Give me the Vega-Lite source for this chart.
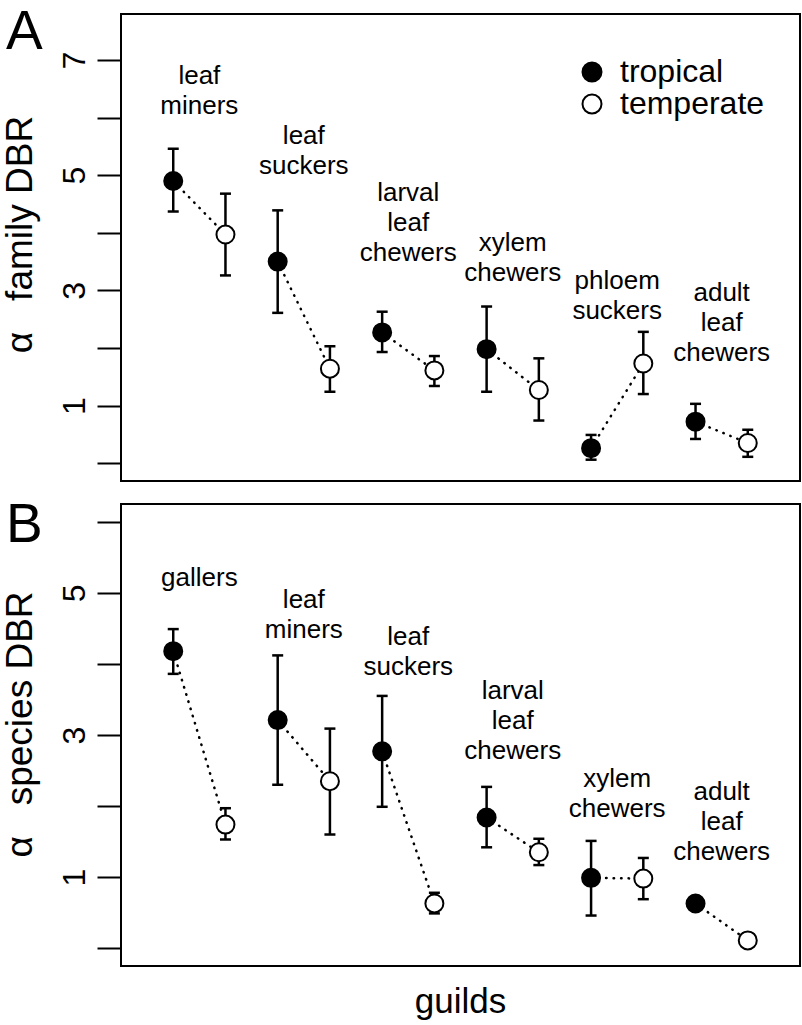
{
  "$schema": "https://vega.github.io/schema/vega-lite/v6.json",
  "padding": {"left": 0, "top": 4, "right": 0, "bottom": 0},
  "bounds": "flush",
  "spacing": 23,
  "config": {
    "font": "Liberation Sans",
    "view": {"stroke": "black", "strokeWidth": 2},
    "axis": {"grid": false, "domain": false, "tickColor": "black", "tickWidth": 2, "tickSize": 24, "labelFontSize": 32, "labelColor": "black", "labelPadding": 13, "labelOverlap": false, "labelFont": "Liberation Sans", "titleFont": "Liberation Sans", "titleFontWeight": "normal", "titleColor": "black", "titleFontSize": 37}
  },
  "datasets": {
    "famA": [
      {"pos": 1, "climate": "tropical", "guild": "leaf miners", "mean": 4.90, "lo": 4.37, "hi": 5.46},
      {"pos": 2, "climate": "temperate", "guild": "leaf miners", "mean": 3.97, "lo": 3.26, "hi": 4.68},
      {"pos": 3, "climate": "tropical", "guild": "leaf suckers", "mean": 3.50, "lo": 2.61, "hi": 4.39},
      {"pos": 4, "climate": "temperate", "guild": "leaf suckers", "mean": 1.64, "lo": 1.24, "hi": 2.03},
      {"pos": 5, "climate": "tropical", "guild": "larval leaf chewers", "mean": 2.27, "lo": 1.93, "hi": 2.63},
      {"pos": 6, "climate": "temperate", "guild": "larval leaf chewers", "mean": 1.61, "lo": 1.34, "hi": 1.86},
      {"pos": 7, "climate": "tropical", "guild": "xylem chewers", "mean": 1.98, "lo": 1.24, "hi": 2.72},
      {"pos": 8, "climate": "temperate", "guild": "xylem chewers", "mean": 1.27, "lo": 0.74, "hi": 1.82},
      {"pos": 9, "climate": "tropical", "guild": "phloem suckers", "mean": 0.26, "lo": 0.06, "hi": 0.49},
      {"pos": 10, "climate": "temperate", "guild": "phloem suckers", "mean": 1.73, "lo": 1.20, "hi": 2.28},
      {"pos": 11, "climate": "tropical", "guild": "adult leaf chewers", "mean": 0.72, "lo": 0.42, "hi": 1.03},
      {"pos": 12, "climate": "temperate", "guild": "adult leaf chewers", "mean": 0.35, "lo": 0.11, "hi": 0.58}
    ],
    "labA": [
      {"pos": 1.5, "label_y": 6.59, "label": "leaf\nminers"},
      {"pos": 3.5, "label_y": 5.55, "label": "leaf\nsuckers"},
      {"pos": 5.5, "label_y": 4.56, "label": "larval\nleaf\nchewers"},
      {"pos": 7.5, "label_y": 3.69, "label": "xylem\nchewers"},
      {"pos": 9.5, "label_y": 3.03, "label": "phloem\nsuckers"},
      {"pos": 11.5, "label_y": 2.82, "label": "adult\nleaf\nchewers"}
    ],
    "spB": [
      {"pos": 1, "climate": "tropical", "guild": "gallers", "mean": 4.18, "lo": 3.86, "hi": 4.49},
      {"pos": 2, "climate": "temperate", "guild": "gallers", "mean": 1.74, "lo": 1.53, "hi": 1.97},
      {"pos": 3, "climate": "tropical", "guild": "leaf miners", "mean": 3.21, "lo": 2.30, "hi": 4.12},
      {"pos": 4, "climate": "temperate", "guild": "leaf miners", "mean": 2.35, "lo": 1.60, "hi": 3.09},
      {"pos": 5, "climate": "tropical", "guild": "leaf suckers", "mean": 2.77, "lo": 1.99, "hi": 3.55},
      {"pos": 6, "climate": "temperate", "guild": "leaf suckers", "mean": 0.63, "lo": 0.49, "hi": 0.78},
      {"pos": 7, "climate": "tropical", "guild": "larval leaf chewers", "mean": 1.84, "lo": 1.42, "hi": 2.27},
      {"pos": 8, "climate": "temperate", "guild": "larval leaf chewers", "mean": 1.35, "lo": 1.17, "hi": 1.54},
      {"pos": 9, "climate": "tropical", "guild": "xylem chewers", "mean": 0.99, "lo": 0.46, "hi": 1.51},
      {"pos": 10, "climate": "temperate", "guild": "xylem chewers", "mean": 0.98, "lo": 0.69, "hi": 1.27},
      {"pos": 11, "climate": "tropical", "guild": "adult leaf chewers", "mean": 0.63, "lo": 0.54, "hi": 0.72},
      {"pos": 12, "climate": "temperate", "guild": "adult leaf chewers", "mean": 0.11, "lo": 0.02, "hi": 0.21}
    ],
    "labB": [
      {"pos": 1.5, "label_y": 5.10, "label": "gallers"},
      {"pos": 3.5, "label_y": 4.78, "label": "leaf\nminers"},
      {"pos": 5.5, "label_y": 4.26, "label": "leaf\nsuckers"},
      {"pos": 7.5, "label_y": 3.51, "label": "larval\nleaf\nchewers"},
      {"pos": 9.5, "label_y": 2.27, "label": "xylem\nchewers"},
      {"pos": 11.5, "label_y": 2.08, "label": "adult\nleaf\nchewers"}
    ]
  },
  "vconcat": [
    {
      "width": 679,
      "height": 467,
      "layer": [
        {
          "data": {"name": "famA"},
          "mark": {"type": "line", "color": "black", "strokeWidth": 2.5, "strokeDash": [0.5, 7], "strokeCap": "round"},
          "encoding": {
            "x": {"field": "pos", "type": "quantitative", "scale": {"domain": [0, 13], "nice": false, "zero": false}, "axis": null},
            "y": {"field": "mean", "type": "quantitative", "scale": {"domain": [-0.31, 7.8], "nice": false, "zero": false},
              "axis": {"title": "α\u00a0\u00a0 family DBR", "values": [0, 1, 2, 3, 4, 5, 6, 7], "format": "d", "labelExpr": "datum.value % 2 == 1 ? datum.label : ''", "labelAngle": -90, "labelAlign": "center", "labelBaseline": "alphabetic", "titleX": -90, "titleY": 220, "titleAngle": -90, "titleAlign": "center", "titleBaseline": "alphabetic"}},
            "detail": {"field": "guild", "type": "nominal"}
          }
        },
        {
          "data": {"name": "famA"},
          "mark": {"type": "rule", "color": "black", "strokeWidth": 2.5},
          "encoding": {
            "x": {"field": "pos", "type": "quantitative"},
            "y": {"field": "lo", "type": "quantitative"},
            "y2": {"field": "hi"}
          }
        },
        {
          "data": {"name": "famA"},
          "mark": {"type": "tick", "orient": "horizontal", "size": 11, "thickness": 2.5, "color": "black", "opacity": 1},
          "encoding": {
            "x": {"field": "pos", "type": "quantitative"},
            "y": {"field": "lo", "type": "quantitative"}
          }
        },
        {
          "data": {"name": "famA"},
          "mark": {"type": "tick", "orient": "horizontal", "size": 11, "thickness": 2.5, "color": "black", "opacity": 1},
          "encoding": {
            "x": {"field": "pos", "type": "quantitative"},
            "y": {"field": "hi", "type": "quantitative"}
          }
        },
        {
          "data": {"name": "famA"},
          "mark": {"type": "point", "shape": "circle", "filled": true, "size": 324, "stroke": "black", "strokeWidth": 2, "opacity": 1},
          "encoding": {
            "x": {"field": "pos", "type": "quantitative"},
            "y": {"field": "mean", "type": "quantitative"},
            "fill": {"field": "climate", "type": "nominal", "scale": {"domain": ["tropical", "temperate"], "range": ["black", "white"]},
              "legend": {"title": null, "orient": "none", "legendX": 455, "legendY": 42, "labelFontSize": 32, "labelColor": "black", "labelFont": "Liberation Sans", "symbolType": "circle", "symbolSize": 361, "symbolStrokeColor": "black", "symbolStrokeWidth": 2, "labelOffset": 12, "rowPadding": 0, "padding": 0}}
          }
        },
        {
          "data": {"name": "labA"},
          "mark": {"type": "text", "fontSize": 26, "lineBreak": "\n", "lineHeight": 30, "align": "center", "baseline": "alphabetic", "color": "black", "font": "Liberation Sans"},
          "encoding": {
            "x": {"field": "pos", "type": "quantitative"},
            "y": {"field": "label_y", "type": "quantitative"},
            "text": {"field": "label", "type": "nominal"}
          }
        },
        {
          "data": {"values": [{"panel": "A"}]},
          "mark": {"type": "text", "fontSize": 55, "align": "left", "baseline": "alphabetic", "color": "black", "font": "Liberation Sans"},
          "encoding": {
            "x": {"datum": -2.2, "type": "quantitative"},
            "y": {"datum": 7.19, "type": "quantitative"},
            "text": {"field": "panel", "type": "nominal"}
          }
        }
      ]
    },
    {
      "width": 679,
      "height": 462,
      "layer": [
        {
          "data": {"name": "spB"},
          "mark": {"type": "line", "color": "black", "strokeWidth": 2.5, "strokeDash": [0.5, 7], "strokeCap": "round"},
          "encoding": {
            "x": {"field": "pos", "type": "quantitative", "scale": {"domain": [0, 13], "nice": false, "zero": false},
              "axis": {"title": "guilds", "labels": false, "ticks": false, "domain": false, "titleY": 46, "titleX": 339, "titleBaseline": "alphabetic", "titleFontSize": 35}},
            "y": {"field": "mean", "type": "quantitative", "scale": {"domain": [-0.25, 6.25], "nice": false, "zero": false},
              "axis": {"title": "α\u00a0\u00a0 species DBR", "values": [0, 1, 2, 3, 4, 5, 6], "format": "d", "labelExpr": "datum.value % 2 == 1 ? datum.label : ''", "labelAngle": -90, "labelAlign": "center", "labelBaseline": "alphabetic", "titleX": -90, "titleY": 220, "titleAngle": -90, "titleAlign": "center", "titleBaseline": "alphabetic"}},
            "detail": {"field": "guild", "type": "nominal"}
          }
        },
        {
          "data": {"name": "spB"},
          "mark": {"type": "rule", "color": "black", "strokeWidth": 2.5},
          "encoding": {
            "x": {"field": "pos", "type": "quantitative"},
            "y": {"field": "lo", "type": "quantitative"},
            "y2": {"field": "hi"}
          }
        },
        {
          "data": {"name": "spB"},
          "mark": {"type": "tick", "orient": "horizontal", "size": 11, "thickness": 2.5, "color": "black", "opacity": 1},
          "encoding": {
            "x": {"field": "pos", "type": "quantitative"},
            "y": {"field": "lo", "type": "quantitative"}
          }
        },
        {
          "data": {"name": "spB"},
          "mark": {"type": "tick", "orient": "horizontal", "size": 11, "thickness": 2.5, "color": "black", "opacity": 1},
          "encoding": {
            "x": {"field": "pos", "type": "quantitative"},
            "y": {"field": "hi", "type": "quantitative"}
          }
        },
        {
          "data": {"name": "spB"},
          "mark": {"type": "point", "shape": "circle", "filled": true, "size": 324, "stroke": "black", "strokeWidth": 2, "opacity": 1},
          "encoding": {
            "x": {"field": "pos", "type": "quantitative"},
            "y": {"field": "mean", "type": "quantitative"},
            "fill": {"field": "climate", "type": "nominal", "scale": {"domain": ["tropical", "temperate"], "range": ["black", "white"]}, "legend": null}
          }
        },
        {
          "data": {"name": "labB"},
          "mark": {"type": "text", "fontSize": 26, "lineBreak": "\n", "lineHeight": 30, "align": "center", "baseline": "alphabetic", "color": "black", "font": "Liberation Sans"},
          "encoding": {
            "x": {"field": "pos", "type": "quantitative"},
            "y": {"field": "label_y", "type": "quantitative"},
            "text": {"field": "label", "type": "nominal"}
          }
        },
        {
          "data": {"values": [{"panel": "B"}]},
          "mark": {"type": "text", "fontSize": 55, "align": "left", "baseline": "alphabetic", "color": "black", "font": "Liberation Sans"},
          "encoding": {
            "x": {"datum": -2.2, "type": "quantitative"},
            "y": {"datum": 5.715, "type": "quantitative"},
            "text": {"field": "panel", "type": "nominal"}
          }
        }
      ]
    }
  ],
  "resolve": {"scale": {"fill": "independent", "x": "independent", "y": "independent"}}
}
